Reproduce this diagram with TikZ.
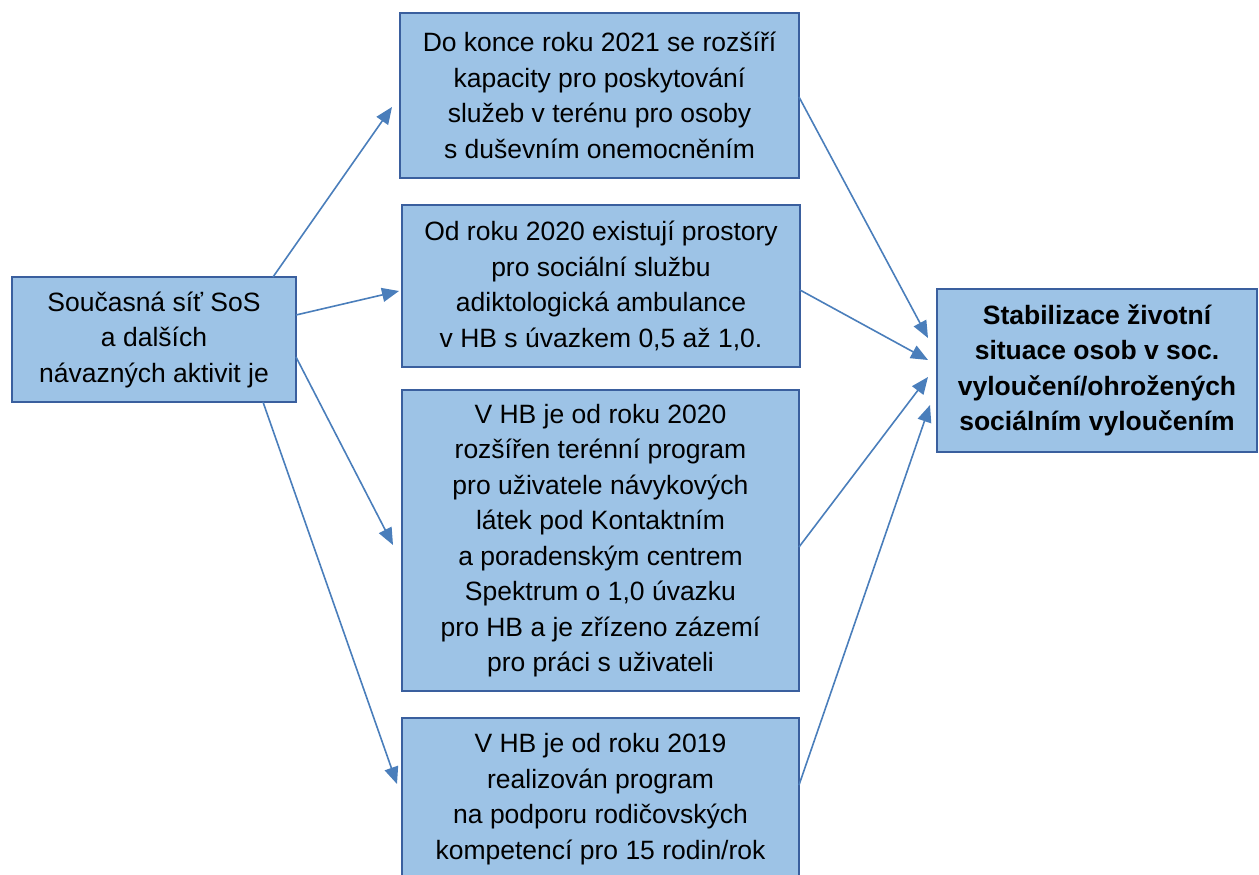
\documentclass[tikz,border=0pt]{standalone}
\usepackage{fontspec}
\setmainfont{Liberation Sans}
\usetikzlibrary{arrows.meta,calc}
\definecolor{boxfill}{HTML}{9DC3E6}
\definecolor{boxline}{HTML}{3A5F9E}
\definecolor{arrcol}{HTML}{4A7EBB}
\begin{document}
\begin{tikzpicture}[x=1pt,y=-1pt,
  box/.style={draw=boxline, fill=boxfill, line width=2.6pt, rectangle, inner sep=0pt, outer sep=0pt,
    align=center, font=\fontsize{26.5}{35.5}\selectfont},
  arr/.style={draw=arrcol, line width=1.6pt, -{Triangle[length=17pt,width=14pt]}}]
\useasboundingbox (0,0) rectangle (1259,875);
\clip (0,0) rectangle (1259,875);
\node[box, minimum width=284pt, minimum height=125pt] (left) at (154,339.5)
  {Současná síť SoS\\a dalších\\návazných aktivit je};
\node[box, minimum width=399pt, minimum height=165pt] (b1) at (599.5,95.5)
  {Do konce roku 2021 se rozšíří\\kapacity pro poskytování\\služeb v terénu pro osoby\\s duševním onemocněním};
\node[box, minimum width=398pt, minimum height=162pt] (b2) at (601,286)
  {Od roku 2020 existují prostory\\pro sociální službu\\adiktologická ambulance\\v HB s úvazkem 0,5 až 1,0.};
\node[box, minimum width=397pt, minimum height=301pt] (b3) at (600.5,540.5)
  {V HB je od roku 2020\\rozšířen terénní program\\pro uživatele návykových\\látek pod Kontaktním\\a poradenským centrem\\Spektrum o 1,0 úvazku\\pro HB a je zřízeno zázemí\\pro práci s uživateli};
\node[box, minimum width=397pt, minimum height=162pt] (b4) at (600.5,799)
  {V HB je od roku 2019\\realizován program\\na podporu rodičovských\\kompetencí pro 15 rodin/rok};
\node[box, minimum width=320pt, minimum height=163pt, font=\fontsize{26.5}{35.5}\selectfont\bfseries] (right) at (1097,370.5)
  {Stabilizace životní\\situace osob v soc.\\vyloučení/ohrožených\\sociálním vyloučením};
\draw[arr] ($(left.north west)+(261,0)$) -- ($(b1.west)+(-8,11.5)$);
\draw[arr] ($(left.east)+(0,-24.5)$) -- ($(b2.west)+(-3,5)$);
\draw[arr] ($(left.east)+(0,17.5)$) -- ($(b3.west)+(-9,4.5)$);
\draw[arr] ($(left.south west)+(251,0)$) -- ($(b4.west)+(-5,-15)$);
\draw[arr] ($(b1.east)+(0,1.5)$) -- ($(right.west)+(-9,-32.5)$);
\draw[arr] ($(b2.east)+(0,4)$) -- ($(right.west)+(-9,-10.5)$);
\draw[arr] ($(b3.east)+(0,6.5)$) -- ($(right.west)+(-9,6.5)$);
\draw[arr] ($(b4.east)+(0,-14)$) -- ($(right.west)+(-7,34.5)$);
\end{tikzpicture}
\end{document}
